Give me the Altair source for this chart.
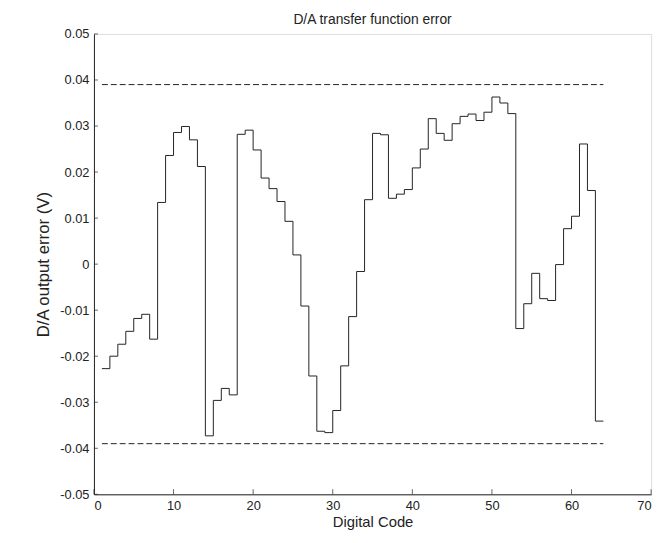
import altair as alt
import pandas as pd

codes = list(range(1, 65))
err = [-0.0227, -0.0200, -0.0174, -0.0146, -0.0118, -0.0109, -0.0163, 0.0134,
       0.0236, 0.0286, 0.0299, 0.0270, 0.0212, -0.0373, -0.0296, -0.0270,
       -0.0284, 0.0282, 0.0291, 0.0248, 0.0187, 0.0164, 0.0136, 0.0093,
       0.0020, -0.0091, -0.0243, -0.0363, -0.0366, -0.0318, -0.0221, -0.0114,
       -0.0016, 0.0140, 0.0284, 0.0281, 0.0143, 0.0152, 0.0162, 0.0209,
       0.0250, 0.0316, 0.0284, 0.0269, 0.0305, 0.0321, 0.0326, 0.0312,
       0.0330, 0.0363, 0.0350, 0.0327, -0.0140, -0.0086, -0.0020, -0.0075,
       -0.0079, -0.0001, 0.0077, 0.0104, 0.0261, 0.0160, -0.0341, -0.0341]
limits = [0.039, -0.039]
x_ticks = [0, 10, 20, 30, 40, 50, 60, 70]
y_ticks = [-0.05, -0.04, -0.03, -0.02, -0.01, 0.0, 0.01, 0.02, 0.03, 0.04, 0.05]

FONT = "Liberation Sans"
INK = "#222222"

df = pd.DataFrame({"code": codes, "err": err})
lim_df = pd.DataFrame({"lim": limits, "x0": [codes[0]] * 2, "x1": [codes[-1]] * 2})
xt_df = pd.DataFrame({"t": x_ticks, "base": [y_ticks[0]] * len(x_ticks)})
yt_df = pd.DataFrame({"t": y_ticks, "base": [x_ticks[0]] * len(y_ticks)})

xscale = alt.Scale(domain=[0, 70], nice=False, zero=False)
yscale = alt.Scale(domain=[-0.05, 0.05], nice=False, zero=False)

xaxis = alt.Axis(values=x_ticks, ticks=False, grid=False, labelPadding=5,
                 title="Digital Code", titlePadding=3, titleFontSize=15, format="d")
yaxis = alt.Axis(values=y_ticks, ticks=False, grid=False, labelPadding=5,
                 title="D/A output error (V)", titlePadding=7, titleFontSize=17,
                 labelExpr="datum.value == 0 ? '0' : replace(format(datum.value, '.2f'), '\u2212', '-')")

line = alt.Chart(df).mark_line(interpolate="step-after", color=INK, strokeWidth=1).encode(
    x=alt.X("code:Q", scale=xscale, axis=xaxis),
    y=alt.Y("err:Q", scale=yscale, axis=yaxis),
)

dashed = alt.Chart(lim_df).mark_rule(color=INK, strokeWidth=1, strokeDash=[6, 3]).encode(
    x=alt.X("x0:Q", scale=xscale),
    x2="x1:Q",
    y=alt.Y("lim:Q", scale=yscale),
)

xticks = alt.Chart(xt_df).mark_tick(orient="vertical", size=5, thickness=1,
                                    yOffset=-2.5, color=INK).encode(
    x=alt.X("t:Q", scale=xscale),
    y=alt.Y("base:Q", scale=yscale),
)

yticks = alt.Chart(yt_df).mark_tick(orient="horizontal", size=4, thickness=1,
                                    xOffset=2, color=INK).encode(
    x=alt.X("base:Q", scale=xscale),
    y=alt.Y("t:Q", scale=yscale),
)

chart = alt.layer(line, dashed, xticks, yticks).properties(
    width=564,
    height=466,
    title=alt.TitleParams("D/A transfer function error", fontSize=14, font=FONT,
                          fontWeight="normal", color=INK, offset=1),
    autosize=alt.AutoSizeParams(type="none"),
    padding={"left": 87, "top": 23, "right": 10, "bottom": 44},
).configure_view(stroke=None).configure(background="white").configure_axis(
    domainColor=INK, domainWidth=1, labelFont=FONT, titleFont=FONT,
    labelFontSize=13, labelColor=INK, titleColor=INK,
    titleFontWeight="normal",
)

chart.save("out.html", embed_options={"renderer": "svg", "actions": False})
